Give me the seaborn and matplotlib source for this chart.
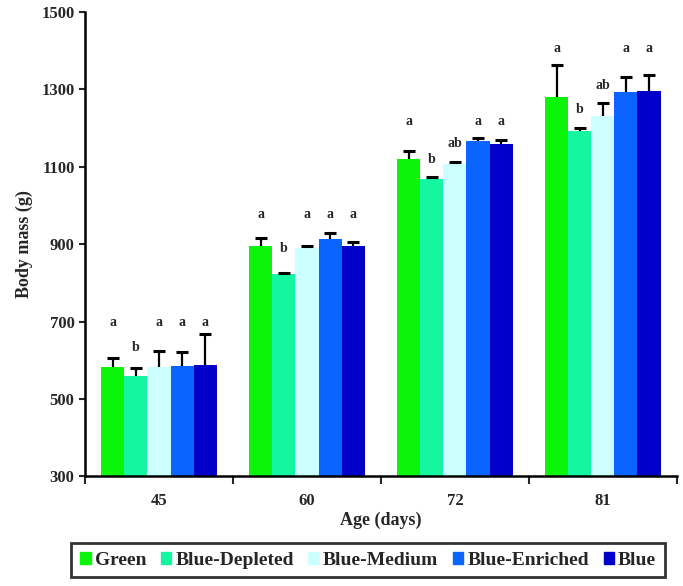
import pandas as pd
import matplotlib.pyplot as plt
import seaborn as sns

# ── data ──────────────────────────────────────────────────────────
ages = ['45', '60', '72', '81']
groups = ['Green', 'Blue-Depleted', 'Blue-Medium', 'Blue-Enriched', 'Blue']
colors = ['#0AF50A', '#14F7A0', '#CCFFFF', '#0A64FF', '#0000C8']

mean_green    = [582, 896, 1119, 1281]
mean_depleted = [560, 822, 1068, 1193]
mean_medium   = [582, 889, 1107, 1232]
mean_enriched = [585, 914, 1166, 1293]
mean_blue     = [589, 896, 1158, 1296]

se_green    = [25, 19, 23, 83]
se_depleted = [21, 3, 6, 7]
se_medium   = [42, 6, 6, 34]
se_enriched = [37, 14, 8, 38]
se_blue     = [78, 10, 11, 42]

letters_green    = ['a', 'a', 'a', 'a']
letters_depleted = ['b', 'b', 'b', 'b']
letters_medium   = ['a', 'a', 'ab', 'ab']
letters_enriched = ['a', 'a', 'a', 'a']
letters_blue     = ['a', 'a', 'a', 'a']

# heights where the significance letters sit
ly_green    = [699, 978, 1218, 1407]
ly_depleted = [633, 890, 1120, 1247]
ly_medium   = [699, 978, 1161, 1311]
ly_enriched = [699, 978, 1218, 1407]
ly_blue     = [699, 978, 1218, 1407]

means = [mean_green, mean_depleted, mean_medium, mean_enriched, mean_blue]
ses = [se_green, se_depleted, se_medium, se_enriched, se_blue]
letters = [letters_green, letters_depleted, letters_medium, letters_enriched, letters_blue]
letter_y = [ly_green, ly_depleted, ly_medium, ly_enriched, ly_blue]

rows = []
for g, m in zip(groups, means):
    for a, v in zip(ages, m):
        rows.append({'Age': a, 'Group': g, 'Mass': v})
df = pd.DataFrame(rows)

# ── plot ──────────────────────────────────────────────────────────
sns.set_style('white')
plt.rcParams['font.family'] = ['Liberation Serif', 'DejaVu Serif']
plt.rcParams['font.weight'] = 'bold'

fig = plt.figure(figsize=(6.83, 5.86), dpi=100)
ax = fig.add_axes([0.1245, 0.187, 0.8665, 0.7925])

sns.barplot(data=df, x='Age', y='Mass', hue='Group', order=ages, hue_order=groups,
            palette=colors, width=0.78, gap=0, errorbar=None, saturation=1,
            linewidth=0, legend=False, ax=ax)

# upper-only error bars (T shape) + significance letters
for cont, se, let, ly in zip(ax.containers, ses, letters, letter_y):
    for bar, e, t, y in zip(cont, se, let, ly):
        xc = bar.get_x() + bar.get_width() / 2
        top = bar.get_height()
        ax.vlines(xc, top, top + e, color='black', linewidth=1.6, zorder=3)
        ax.plot([xc], [top + e], marker='_', markersize=8, mew=2.2, color='black', zorder=3)
        ax.text(xc, y, t, ha='center', va='center', fontsize=10, fontweight='bold')

ax.set_ylim(300, 1500)
ax.set_xlim(-0.5, 3.5)
ax.set_yticks(range(300, 1501, 200))
ax.set_xticks([-0.5, 0.5, 1.5, 2.5, 3.5], minor=True)
ax.tick_params(axis='x', which='major', length=0, labelsize=12, pad=12)
ax.tick_params(axis='x', which='minor', length=6, width=1.5, direction='out', bottom=True)
ax.tick_params(axis='y', length=4, width=1.5, direction='out', left=True, labelsize=12)
for lab in ax.get_xticklabels() + ax.get_yticklabels():
    lab.set_fontweight('bold')

for s in ['top', 'right']:
    ax.spines[s].set_visible(False)
for s in ['left', 'bottom']:
    ax.spines[s].set_linewidth(1.8)
    ax.spines[s].set_color('black')

ax.set_xlabel('Age (days)', fontsize=13, fontweight='bold', labelpad=2)
ax.set_ylabel('Body mass (g)', fontsize=13, fontweight='bold', labelpad=6)

handles = [plt.Rectangle((0, 0), 1, 1, color=c) for c in colors]
leg = fig.legend(handles, groups, loc='center', bbox_to_anchor=(0.539, 0.044), ncol=5,
                 frameon=True, fancybox=False, handlelength=0.55,
                 handleheight=0.6, handletextpad=0.2, columnspacing=0.75,
                 borderpad=0.45, borderaxespad=0,
                 prop={'weight': 'bold', 'size': 14})
leg.get_frame().set_edgecolor('black')
leg.get_frame().set_linewidth(2)

plt.savefig('out.png', dpi=100)
